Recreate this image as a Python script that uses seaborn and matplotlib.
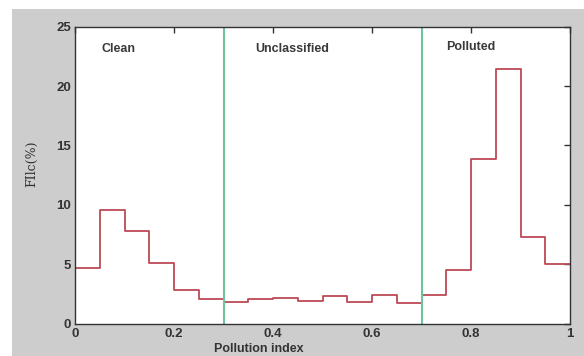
import numpy as np
import pandas as pd
import seaborn as sns
import matplotlib.pyplot as plt
from matplotlib.patches import Rectangle

# Bin edges and heights (20 bins of width 0.05)
bin_edges = [0.0, 0.05, 0.10, 0.15, 0.20, 0.25, 0.30, 0.35, 0.40, 0.45, 0.50,
             0.55, 0.60, 0.65, 0.70, 0.75, 0.80, 0.85, 0.90, 0.95, 1.0]
filc_pct = [4.7, 9.6, 7.8, 5.1, 2.8, 2.1, 1.8, 2.1, 2.2, 1.9,
            2.3, 1.8, 2.4, 1.75, 2.4, 4.5, 13.9, 21.4, 7.3, 5.0]
class_bounds = [0.3, 0.7]
class_names = ["Clean", "Unclassified", "Polluted"]
class_label_x = [0.054, 0.3635, 0.75]
class_label_y = [23.1, 23.1, 23.3]

df = pd.DataFrame({"pi": np.array(bin_edges[:-1]) + 0.025, "pct": filc_pct})

sns.set_style("white")
plt.rcParams["font.family"] = ["Liberation Sans", "DejaVu Sans"]

fig = plt.figure(figsize=(5.84, 3.56), dpi=100, facecolor="white")
# grey frame as in the screenshot
fig.patches.append(Rectangle((12 / 584, 0), 1, 1 - 9 / 356, transform=fig.transFigure,
                             facecolor="#cdcdcd", edgecolor="none", zorder=-10))
ax = fig.add_axes([75 / 584, 1 - 323.7 / 356, 495 / 584, 297 / 356])
ax.set_facecolor("white")

sns.histplot(data=df, x="pi", weights="pct", bins=bin_edges, element="step",
             fill=False, color="#bc4a55", linewidth=1.3, ax=ax)

for b in class_bounds:
    ax.axvline(b, color="#6cc49a", linewidth=1.5)

for name, x, y in zip(class_names, class_label_x, class_label_y):
    ax.text(x, y, name, fontsize=9, fontweight="bold", color="#3a3a3a",
            va="center", ha="left")

ax.set_xlim(0, 1)
ax.set_ylim(0, 25)
ax.set_xticks([0, 0.2, 0.4, 0.6, 0.8, 1])
ax.set_xticklabels(["0", "0.2", "0.4", "0.6", "0.8", "1"])
ax.set_yticks([0, 5, 10, 15, 20, 25])
ax.tick_params(direction="in", length=4, width=1, color="#333333",
               top=True, right=True, labelsize=9.5, labelcolor="#333333", pad=3)
for lab in ax.get_xticklabels() + ax.get_yticklabels():
    lab.set_fontweight("bold")
for s in ax.spines.values():
    s.set_color("#333333")
    s.set_linewidth(1.0)

ax.set_xlabel("Pollution index", fontsize=9, color="#333333", fontweight="bold")
ax.xaxis.set_label_coords(0.372, -0.064)
ax.xaxis.label.set_va("top")
ax.set_ylabel("FIlc(%)", fontsize=9, color="#333333", family="DejaVu Serif")
ax.yaxis.set_label_coords(-0.087, 0.538)
ax.yaxis.label.set_va("center")

plt.savefig("out.png", dpi=100, facecolor="white")
